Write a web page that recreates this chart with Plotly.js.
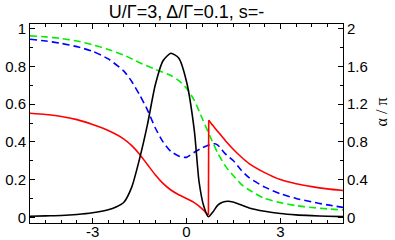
<!DOCTYPE html>
<html><head><meta charset="utf-8">
<script src="https://cdn.plot.ly/plotly-3.0.1.min.js"></script>
<style>html,body{margin:0;padding:0;background:#fff}#c{width:395px;height:240px}</style>
</head><body><div id="c"></div>
<script>
const xBlack = [-5,-4.5,-4,-3.5,-3,-2.5,-2.25,-2,-1.75,-1.5,-1.25,-1,-0.75,-0.5,-0.25,0,0.25,0.4,0.55,0.7,0.85,1.0,1.15,1.35,1.6,2,2.5,3,3.5,4,4.5,5];
const yBlack = [0.006,0.008,0.010,0.015,0.024,0.04,0.055,0.08,0.16,0.31,0.49,0.70,0.83,0.87,0.845,0.72,0.46,0.19,0.06,0.003,0.03,0.065,0.08,0.085,0.075,0.05,0.032,0.02,0.013,0.009,0.006,0.004];

const xRedLeft = [-5,-4.5,-4,-3.5,-3,-2.5,-2,-1.75,-1.5,-1.25,-1,-0.75,-0.5,-0.25,0,0.25,0.5,0.6,0.7];
const yRedLeft = [0.552,0.545,0.535,0.518,0.492,0.46,0.415,0.38,0.335,0.28,0.226,0.18,0.145,0.12,0.10,0.078,0.045,0.028,0.012];
const xRedRight = [0.71,0.85,1.0,1.25,1.5,1.75,2,2.5,3,3.5,4,4.5,5];
const yRedRight = [0.515,0.485,0.455,0.405,0.36,0.32,0.285,0.237,0.20,0.178,0.163,0.151,0.142];

const xBlue = [-5,-4.5,-4,-3.5,-3,-2.5,-2,-1.75,-1.5,-1.25,-1,-0.75,-0.5,-0.25,0,0.25,0.5,0.75,0.9,1.0,1.25,1.5,1.75,2,2.5,3,3.5,4,4.5,5];
const yBlue = [0.944,0.935,0.922,0.905,0.88,0.84,0.775,0.72,0.65,0.57,0.475,0.40,0.35,0.325,0.318,0.345,0.368,0.386,0.39,0.383,0.335,0.30,0.25,0.21,0.16,0.125,0.10,0.082,0.066,0.053];

const xGreen = [-5,-4.5,-4,-3.5,-3,-2.5,-2,-1.5,-1,-0.5,-0.25,0,0.25,0.5,0.75,1.0,1.25,1.5,1.75,2,2.5,3,3.5,4,4.5,5];
const yGreen = [0.962,0.957,0.948,0.935,0.915,0.89,0.86,0.82,0.785,0.752,0.725,0.685,0.62,0.525,0.43,0.34,0.27,0.22,0.175,0.145,0.10,0.078,0.062,0.052,0.045,0.039];

const xTicks = [-3,0,3];
const yTicks = [0,0.2,0.4,0.6,0.8,1];
const y2Ticks = [0,0.4,0.8,1.2,1.6,2];
const titleText = 'U/Γ=3, Δ/Γ=0.1, s=-';
const rightTitle = 'α / π';

const sp = {shape:'spline',smoothing:0.6};
const traces = [
  {x:xGreen,y:yGreen,mode:'lines',line:Object.assign({color:'#00ee00',width:1.6,dash:'7px,4px'},sp)},
  {x:xBlue,y:yBlue,mode:'lines',line:Object.assign({color:'#0000ff',width:1.6,dash:'7px,4px'},sp)},
  {x:xRedLeft,y:yRedLeft,mode:'lines',line:Object.assign({color:'#ff0000',width:1.6},sp)},
  {x:[xRedLeft[xRedLeft.length-1],xRedRight[0]],y:[yRedLeft[yRedLeft.length-1],yRedRight[0]],mode:'lines',line:{color:'#ff0000',width:1.6}},
  {x:xRedRight,y:yRedRight,mode:'lines',line:Object.assign({color:'#ff0000',width:1.6},sp)},
  {x:xBlack,y:yBlack,mode:'lines',line:Object.assign({color:'#000000',width:1.6},sp)}
];
traces.push({x:[0],y:[0],yaxis:'y2',mode:'lines',line:{width:0},hoverinfo:'skip'});

const fnt = {family:'Liberation Sans, Arial, sans-serif',size:15,color:'#000'};
const layout = {
  width:395,height:240,showlegend:false,
  paper_bgcolor:'#fff',plot_bgcolor:'#fff',
  margin:{l:30,r:52,t:24,b:17},
  font:fnt,
  title:{text:titleText,font:{family:'Liberation Sans, Arial, sans-serif',size:18,color:'#000'},x:0.5,xref:'paper',y:0.95,yref:'container',yanchor:'middle'},
  xaxis:{range:[-5,5],tickmode:'array',tickvals:xTicks,ticktext:xTicks.map(String),ticks:'inside',ticklen:5,tickcolor:'#000',
    minor:{dtick:0.5,tick0:0,ticks:'inside',ticklen:3,tickcolor:'#000'},ticklabelstandoff:-5,
    showline:true,linecolor:'#000',linewidth:1,mirror:'ticks',showgrid:false,zeroline:false,tickfont:fnt},
  yaxis:{range:[-0.03,1.025],tickmode:'array',tickvals:yTicks,ticktext:yTicks.map(String),ticks:'inside',ticklen:5,tickcolor:'#000',
    minor:{dtick:0.1,tick0:0,ticks:'inside',ticklen:3,tickcolor:'#000'},
    showline:true,linecolor:'#000',linewidth:1,mirror:false,showgrid:false,zeroline:false,tickfont:fnt},
  yaxis2:{overlaying:'y',side:'right',range:[-0.06,2.05],tickmode:'array',tickvals:y2Ticks,ticktext:y2Ticks.map(String),ticks:'inside',ticklen:5,tickcolor:'#000',
    minor:{dtick:0.2,tick0:0,ticks:'inside',ticklen:3,tickcolor:'#000'},
    showline:true,linecolor:'#000',linewidth:1,showgrid:false,zeroline:false,tickfont:fnt},
  annotations:[{text:rightTitle,xref:'paper',yref:'paper',x:1.126,y:0.558,textangle:-90,showarrow:false,
    font:{family:'Liberation Serif, Times New Roman, serif',size:16,color:'#000'},xanchor:'center',yanchor:'middle'}]
};
Plotly.newPlot('c',traces,layout,{displayModeBar:false,staticPlot:true});
</script></body></html>
